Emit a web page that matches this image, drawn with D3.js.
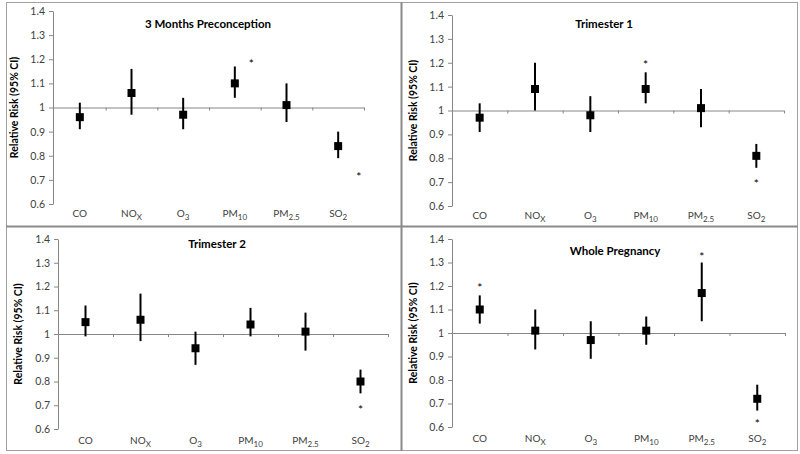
<!DOCTYPE html>
<html>
<head>
<meta charset="utf-8">
<script src="https://cdn.jsdelivr.net/npm/d3@7"></script>
<style>
  html, body { margin: 0; padding: 0; background: #fff; }
  svg { display: block; }
  text { font-family: Lato, "Open Sans", sans-serif; }
</style>
</head>
<body>
<svg id="chart" width="800" height="454"></svg>
<script>
// ---------- data ----------
const categories = ["CO", "NOx", "O3", "PM10", "PM2.5", "SO2"];
const labelMain = ["CO", "NO", "O", "PM", "PM", "SO"];
const labelSub  = ["", "X", "3", "10", "2.5", "2"];
const yTicks = [0.6, 0.7, 0.8, 0.9, 1.0, 1.1, 1.2, 1.3, 1.4];
const yTickLabels = ["0.6", "0.7", "0.8", "0.9", "1", "1.1", "1.2", "1.3", "1.4"];
const yLabel = "Relative Risk (95% CI)";
const panelTitles = ["3 Months Preconception", "Trimester 1", "Trimester 2", "Whole Pregnancy"];

// 3 Months Preconception
const rrPre = [0.96, 1.06, 0.97, 1.10, 1.01, 0.84];
const loPre = [0.91, 0.97, 0.91, 1.04, 0.94, 0.79];
const hiPre = [1.02, 1.16, 1.04, 1.17, 1.10, 0.90];
const sigCatPre = ["PM10", "SO2"];
const sigValPre = [1.19, 0.72];

// Trimester 1
const rrT1 = [0.97, 1.09, 0.98, 1.09, 1.01, 0.81];
const loT1 = [0.91, 1.00, 0.91, 1.03, 0.93, 0.76];
const hiT1 = [1.03, 1.20, 1.06, 1.16, 1.09, 0.86];
const sigCatT1 = ["PM10", "SO2"];
const sigValT1 = [1.20, 0.70];

// Trimester 2
const rrT2 = [1.05, 1.06, 0.94, 1.04, 1.01, 0.80];
const loT2 = [0.99, 0.97, 0.87, 0.99, 0.93, 0.75];
const hiT2 = [1.12, 1.17, 1.01, 1.11, 1.09, 0.85];
const sigCatT2 = ["SO2"];
const sigValT2 = [0.69];

// Whole Pregnancy
const rrWP = [1.10, 1.01, 0.97, 1.01, 1.17, 0.72];
const loWP = [1.04, 0.93, 0.89, 0.95, 1.05, 0.67];
const hiWP = [1.16, 1.10, 1.05, 1.07, 1.30, 0.78];
const sigCatWP = ["CO", "PM2.5", "SO2"];
const sigValWP = [1.20, 1.33, 0.62];

// ---------- layout ----------
const panels = [
  { title: panelTitles[0], rr: rrPre, lo: loPre, hi: hiPre, sigCat: sigCatPre, sigVal: sigValPre,
    axisX: 53, x0: 54, x1: 364, yTop: 11, yBot: 204, titleX: 208, titleY: 28, labX: 18, catY: 217, sigShift: 0.32 },
  { title: panelTitles[1], rr: rrT1, lo: loT1, hi: hiT1, sigCat: sigCatT1, sigVal: sigValT1,
    axisX: 452, x0: 452, x1: 784, yTop: 15, yBot: 206, titleX: 604, titleY: 28, labX: 417, catY: 219, sigShift: 0 },
  { title: panelTitles[2], rr: rrT2, lo: loT2, hi: hiT2, sigCat: sigCatT2, sigVal: sigValT2,
    axisX: 58, x0: 58, x1: 388, yTop: 239, yBot: 429, titleX: 217, titleY: 248, labX: 22, catY: 444, sigShift: 0 },
  { title: panelTitles[3], rr: rrWP, lo: loWP, hi: hiWP, sigCat: sigCatWP, sigVal: sigValWP,
    axisX: 452, x0: 452, x1: 785, yTop: 239, yBot: 427, titleX: 615, titleY: 255, labX: 417, catY: 442, sigShift: 0 }
];

const svg = d3.select("#chart");

// frame and dividers
const frameColor = "#8a8a8a";
svg.append("rect").attr("x", 6.5).attr("y", 2.5).attr("width", 791).attr("height", 448)
  .attr("fill", "none").attr("stroke", "#a0a0a0").attr("stroke-width", 1);
svg.append("line").attr("x1", 401.5).attr("x2", 401.5).attr("y1", 2).attr("y2", 451)
  .attr("stroke", frameColor).attr("stroke-width", 2);
svg.append("line").attr("x1", 6).attr("x2", 798).attr("y1", 226.5).attr("y2", 226.5)
  .attr("stroke", frameColor).attr("stroke-width", 2);

const axisColor = "#868686";
const textColor = "#404040";

panels.forEach(p => {
  const g = svg.append("g");
  const y = d3.scaleLinear().domain([0.6, 1.4]).range([p.yBot, p.yTop]);
  const x = d3.scaleBand().domain(categories).range([p.x0, p.x1]).paddingInner(0).paddingOuter(0);
  const xl = d3.scaleLinear().domain([0, categories.length]).range([p.x0, p.x1]);

  // y axis
  const ya = g.append("g").attr("transform", `translate(${p.axisX},0)`)
    .call(d3.axisLeft(y).tickValues(yTicks).tickSize(4).tickSizeOuter(0).tickPadding(4)
      .tickFormat((d, i) => yTickLabels[i]));
  ya.select(".domain").attr("stroke", axisColor);
  ya.selectAll(".tick line").attr("stroke", axisColor);
  ya.selectAll(".tick text").attr("fill", textColor).style("font-size", "10.5px")
    .style("font-family", "Lato, 'Open Sans', sans-serif");

  // x axis at RR = 1
  const xa = g.append("g").attr("transform", `translate(0,${y(1)})`)
    .call(d3.axisBottom(xl).tickValues(d3.range(1, categories.length + 1)).tickSize(3)
      .tickSizeOuter(0).tickFormat(""));
  xa.select(".domain").attr("stroke", axisColor)
    .attr("d", `M${p.axisX},0.5H${p.x1}`);
  xa.selectAll(".tick line").attr("stroke", axisColor);

  // category labels with subscripts
  const lab = g.selectAll(".cat").data(categories).enter().append("text")
    .attr("class", "cat")
    .attr("x", d => x(d) + x.bandwidth() / 2)
    .attr("y", p.catY)
    .attr("text-anchor", "middle")
    .attr("fill", textColor)
    .style("font-size", "10px");
  lab.append("tspan").text((d, i) => labelMain[i]);
  lab.append("tspan").attr("dy", 3).style("font-size", "8px").text((d, i) => labelSub[i]);

  // error bars
  g.selectAll(".err").data(categories).enter().append("line")
    .attr("x1", d => x(d) + x.bandwidth() / 2)
    .attr("x2", d => x(d) + x.bandwidth() / 2)
    .attr("y1", (d, i) => y(p.lo[i]))
    .attr("y2", (d, i) => y(p.hi[i]))
    .attr("stroke", "#000").attr("stroke-width", 2);

  // markers
  g.selectAll(".pt").data(categories).enter().append("path")
    .attr("d", d3.symbol(d3.symbolSquare, 64))
    .attr("transform", (d, i) => `translate(${x(d) + x.bandwidth() / 2},${y(p.rr[i])})`)
    .attr("fill", "#000");

  // significance asterisks
  g.selectAll(".sig").data(p.sigCat).enter().append("text")
    .attr("x", d => x(d) + x.bandwidth() / 2 + (d === "SO2" && p.sigShift ? p.sigShift * x.bandwidth() * 1.25 : p.sigShift * x.bandwidth()))
    .attr("y", (d, i) => y(p.sigVal[i]) + 6)
    .attr("text-anchor", "middle")
    .attr("fill", "#000")
    .style("font-size", "12px")
    .text("*");

  // title
  g.append("text").attr("x", p.titleX).attr("y", p.titleY).attr("text-anchor", "middle")
    .attr("fill", "#000").style("font-size", "11.5px").style("font-weight", "bold")
    .text(p.title);

  // y label
  g.append("text")
    .attr("transform", `translate(${p.labX},${(p.yTop + p.yBot) / 2}) rotate(-90)`)
    .attr("text-anchor", "middle")
    .attr("fill", "#000").style("font-size", "10.5px").style("font-weight", "bold")
    .text(yLabel);
});
</script>
</body>
</html>
